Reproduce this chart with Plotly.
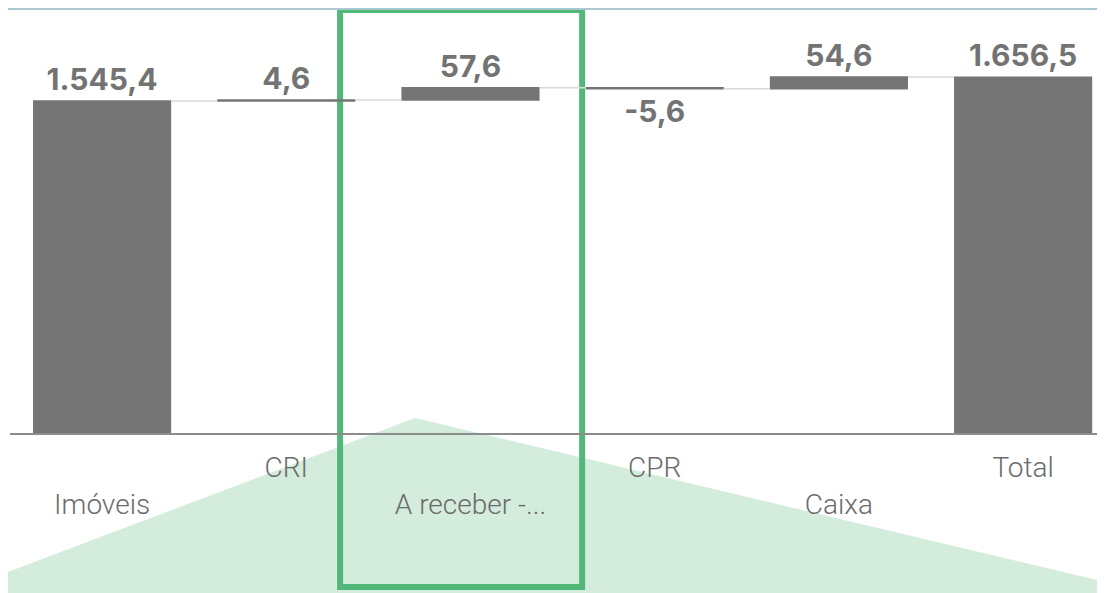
import plotly.graph_objects as go

# the page body adds an 8px margin, so the figure sits at (8, 8) in the window
OFF = 8
W, H = 1105 - OFF, 593 - OFF
ML, MR, MT, MB = 2, 0, 2, 160

# data
categories = ["Imóveis", "CRI", "A receber -...", "CPR", "Caixa", "Total"]
values = [1545.4, 4.6, 57.6, -5.6, 54.6, 1656.5]
measures = ["absolute", "relative", "relative", "relative", "relative", "absolute"]

BAR = "#757575"
LABEL = "#737373"
TICK = "#6b6b6b"
GREEN = "#52b87a"
GREEN_FILL = "#d3ecdc"


def br_fmt(v):
    # 1,545.4 -> 1.545,4
    s = f"{v:,.1f}"
    return s.replace(",", "X").replace(".", ",").replace("X", ".")


# staggered category labels (every other one pushed down a line)
ticktext = [("<br>" + c) if i % 2 == 0 else c for i, c in enumerate(categories)]

fig = go.Figure(go.Waterfall(
    x=categories,
    y=values,
    measure=measures,
    text=[br_fmt(v) for v in values],
    textposition="outside",
    constraintext="none",
    cliponaxis=False,
    textfont=dict(family="Inter, sans-serif", size=30, color=LABEL, weight=700),
    increasing=dict(marker=dict(color=BAR)),
    decreasing=dict(marker=dict(color=BAR)),
    totals=dict(marker=dict(color=BAR)),
    connector=dict(mode="between", line=dict(color="#d9d9d9", width=1.5)),
    hoverinfo="skip",
))

plot_w = W - ML - MR
plot_h = H - MT - MB
band = 184.2  # px per category


# window pixel -> paper fraction
def px_x(p):
    return (p - OFF - ML) / plot_w


def px_y(p):
    return (MT + plot_h - (p - OFF)) / plot_h


# pale green triangle behind the axis labels
tri = [(0, 575), (415, 418), (1105, 582), (1105, 600), (0, 600)]
path = "M " + " L ".join(f"{px_x(x):.4f},{px_y(y):.4f}" for x, y in tri) + " Z"

fig.update_layout(
    width=W, height=H,
    margin=dict(l=ML, r=MR, t=MT, b=MB),
    paper_bgcolor="white",
    plot_bgcolor="rgba(0,0,0,0)",
    showlegend=False,
    waterfallgap=0.25,
    font=dict(family="Inter, sans-serif", color=TICK),
    xaxis=dict(
        range=[-0.5, -0.5 + plot_w / band],
        tickmode="array",
        tickvals=categories,
        ticktext=ticktext,
        tickfont=dict(family="Roboto, sans-serif", size=28, color=TICK, weight=300),
        showline=True, linecolor="#8c8c8c", linewidth=1.5,
        showgrid=False, zeroline=False, ticks="",
        ticklabelstandoff=9,
    ),
    yaxis=dict(range=[0, 1969], visible=False, showgrid=False, zeroline=False),
    shapes=[
        dict(type="path", path=path, xref="paper", yref="paper",
             fillcolor=GREEN_FILL, line=dict(width=0), layer="below"),
        dict(type="rect", xref="x", yref="paper", x0=1.292, x1=2.606,
             y0=px_y(587), y1=px_y(10), line=dict(color=GREEN, width=6),
             fillcolor="rgba(0,0,0,0)", layer="below"),
        dict(type="line", xref="paper", yref="paper", x0=px_x(0), x1=px_x(1105),
             y0=px_y(9), y1=px_y(9), line=dict(color="#a9c8d0", width=2)),
    ],
)

fig.write_html("out.html")
